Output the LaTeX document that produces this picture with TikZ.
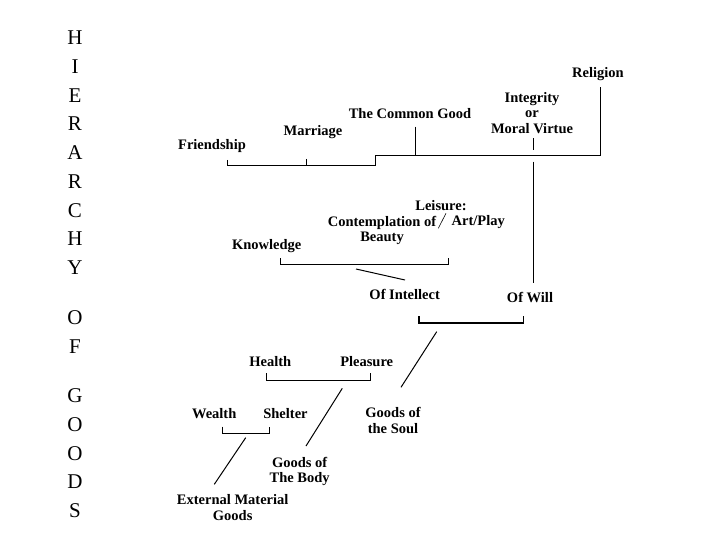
\documentclass[tikz,border=0pt]{standalone}
\usepackage{fontspec}
\setmainfont{Liberation Serif}

\begin{document}
\begin{tikzpicture}[x=1pt, y=-1pt,
    good/.style={font=\fontsize{14.5}{15.5}\selectfont\bfseries, align=center, inner sep=0pt, text depth=0pt},
    letter/.style={font=\fontsize{21}{21}\selectfont, inner sep=0pt},
    link/.style={line width=1pt}]
        \useasboundingbox (0,0) rectangle (720,540);

        % Title down the left side
        \foreach \l/\y [count=\i] in {H/38, I/66.7, E/95.4, R/124.1, A/152.8, R/181.5, C/210.2, H/238.9, Y/267.6,
                                      O/318, F/346.7, G/396, O/424.7, O/453.4, D/482.1, S/510.8} {
          \node[letter] (title\i) at (75, \y) {\l};
        }

        % Top row of goods
        \node[good] (religion) at (598, 72) {Religion};
        \node[good] (integrity) at (532, 112.5) {Integrity\\or\\Moral Virtue};
        \node[good] (common) at (410, 113.3) {The Common Good};
        \node[good] (marriage) at (313, 130) {Marriage};
        \node[good] (friendship) at (212, 144) {Friendship};

        % Goods of intellect and will
        \node[good] (leisure) at (441, 205) {Leisure:};
        \node[good] (contemplation) at (382, 228.7) {Contemplation of\\Beauty};
        \node[good] (artplay) at (478.3, 220.7) {Art/Play};
        \node[good] (knowledge) at (266.7, 244) {Knowledge};
        \node[good] (intellect) at (404.7, 294.3) {Of Intellect};
        \node[good] (will) at (530, 297.3) {Of Will};

        % Goods of soul, body and things
        \node[good] (health) at (270.3, 361.7) {Health};
        \node[good] (pleasure) at (366.7, 361.7) {Pleasure};
        \node[good] (wealth) at (214.2, 413.3) {Wealth};
        \node[good] (shelter) at (285.5, 413.3) {Shelter};
        \node[good] (soul) at (393, 420.5) {Goods of\\the Soul};
        \node[good] (body) at (299.7, 469.7) {Goods of\\The Body};
        \node[good] (external) at (232.7, 507.7) {External Material\\Goods};

        % Bracket under the top row
        \coordinate (friendTick) at (227.7, 160);
        \coordinate (marriageTick) at (306.7, 159);
        \coordinate (lowBar) at (375, 166);
        \coordinate (highBar) at (375, 156);
        \coordinate (commonTick) at (415.7, 126.7);
        \coordinate (religionTick) at (600.7, 86.7);
        \draw[link] (friendTick) |- (lowBar) -- (highBar) -| (religionTick);
        \draw[link] (marriageTick) -- (marriageTick |- lowBar);
        \draw[link] (commonTick) -- (commonTick |- highBar);

        % Integrity down to will
        \coordinate (integrityTick) at (533.3, 138.3);
        \coordinate (integrityEnd) at (533.3, 150);
        \draw[link] (integrityTick) -- (integrityEnd);
        \coordinate (willTop) at (533.3, 161.7);
        \coordinate (willEnd) at (533.3, 283.3);
        \draw[link] (willTop) -- (willEnd);

        % Knowledge and leisure to intellect
        \coordinate (knowTick) at (280, 258.3);
        \coordinate (artTick) at (448.7, 258.3);
        \draw[link] (knowTick) -- ++(0, 5.7) -| (artTick);
        \coordinate (knowLineA) at (356, 269);
        \coordinate (knowLineB) at (405, 280);
        \draw[link] (knowLineA) -- (knowLineB);
        \coordinate (slashA) at (438.3, 228.3);
        \coordinate (slashB) at (446, 213.3);
        \draw[line width=0.6pt] (slashA) -- (slashB);

        % Intellect and will to the soul
        \coordinate (intellectTick) at (419, 316);
        \coordinate (willTick) at (523.3, 316);
        \draw[link, line width=1.6pt] (intellectTick) -- ++(0, 6.7) -| (willTick);
        \coordinate (soulLineA) at (436.7, 331.7);
        \coordinate (soulLineB) at (401, 387.3);
        \draw[link] (soulLineA) -- (soulLineB);

        % Health and pleasure to the body
        \coordinate (healthTick) at (266, 373.3);
        \coordinate (pleasureTick) at (370.7, 373.3);
        \draw[link] (healthTick) -- ++(0, 6.7) -| (pleasureTick);
        \coordinate (bodyLineA) at (342.3, 388.3);
        \coordinate (bodyLineB) at (306, 446);
        \draw[link] (bodyLineA) -- (bodyLineB);

        % Wealth and shelter to external goods
        \coordinate (wealthTick) at (222.7, 426.7);
        \coordinate (shelterTick) at (269.3, 426.7);
        \draw[link] (wealthTick) -- ++(0, 6.6) -| (shelterTick);
        \coordinate (extLineA) at (245.7, 437.7);
        \coordinate (extLineB) at (214.3, 484.3);
        \draw[link] (extLineA) -- (extLineB);
      \end{tikzpicture}
\end{document}
